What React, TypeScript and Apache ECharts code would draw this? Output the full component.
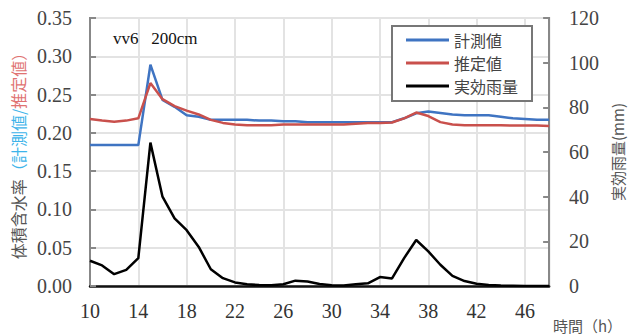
import React, { useEffect, useRef } from "react";
import * as echarts from "echarts";

const hours = [10,11,12,13,14,15,16,17,18,19,20,21,22,23,24,25,26,27,28,29,30,31,32,33,34,35,36,37,38,39,40,41,42,43,44,45,46,47,48];
const measured = [0.184,0.184,0.184,0.184,0.184,0.289,0.243,0.234,0.223,0.221,0.217,0.217,0.217,0.217,0.216,0.216,0.215,0.215,0.214,0.214,0.214,0.214,0.214,0.214,0.214,0.214,0.219,0.2255,0.228,0.226,0.224,0.223,0.223,0.223,0.221,0.219,0.218,0.217,0.217];
const estimated = [0.218,0.216,0.2145,0.216,0.219,0.265,0.244,0.235,0.229,0.224,0.217,0.213,0.211,0.21,0.21,0.21,0.211,0.211,0.211,0.211,0.211,0.211,0.212,0.213,0.213,0.2135,0.219,0.2265,0.222,0.214,0.211,0.21,0.21,0.21,0.21,0.2095,0.2095,0.2095,0.209];
const rainfall = [11.3,9.2,5.3,7.2,12.5,64.2,40,30.3,25,17.5,7.5,3.5,1.6,0.8,0.4,0.3,0.8,2.4,2.0,0.9,0.3,0.2,0.8,1.2,4.0,3.4,12.5,20.6,15.5,9.5,4.5,2.2,1.0,0.5,0.2,0.1,0,0,0];
const seriesNames = ["計測値", "推定値", "実効雨量"];
const titleText = "vv6   200cm";
const xAxisName = "時間（h）";

const SERIF = "'Liberation Serif', 'DejaVu Serif', serif";
const CJK = "'Noto Sans CJK JP', sans-serif";

export default function App() {
  const ref = useRef<HTMLDivElement>(null);
  useEffect(() => {
    if (!ref.current) return;
    document.body.style.margin = "0";
    const chart = echarts.init(ref.current, null, { renderer: "svg" });
    const pair = (arr: number[]) => hours.map((h, i) => [h, arr[i]]);
    chart.setOption({
      animation: false,
      backgroundColor: "#fff",
      title: {
        text: titleText,
        left: 108,
        top: 25,
        textStyle: { fontFamily: SERIF, fontSize: 17, fontWeight: "normal", color: "#111" },
      },
      legend: {
        orient: "vertical",
        left: 392,
        top: 26,
        padding: [5, 14, 6, 14],
        borderColor: "#777",
        borderWidth: 2,
        backgroundColor: "#fff",
        icon: "rect",
        itemWidth: 43,
        itemHeight: 3,
        itemGap: 5,
        data: seriesNames,
        textStyle: { fontFamily: CJK, fontSize: 16, lineHeight: 18, color: "#444" },
      },
      grid: {
        left: 90,
        top: 18,
        width: 467,
        height: 268,
        show: true,
        borderColor: "#888",
        borderWidth: 2,
        containLabel: false,
      },
      xAxis: {
        type: "value",
        min: 10,
        max: 48,
        interval: 4,
        axisLine: { show: true, lineStyle: { color: "#111", width: 2.5 } },
        axisTick: { show: false },
        splitLine: { show: true, lineStyle: { color: "#e3e3e3", width: 2 } },
        axisLabel: {
          margin: 15,
          fontFamily: SERIF,
          fontSize: 20,
          color: "#333",
          showMaxLabel: false,
          formatter: (v: number) => (v === 48 ? "" : String(v)),
        },
      },
      yAxis: [
        {
          type: "value",
          min: 0,
          max: 0.35,
          interval: 0.05,
          position: "left",
          axisLine: { show: true, lineStyle: { color: "#888", width: 2 } },
          axisTick: { show: true, inside: true, length: 6, lineStyle: { color: "#888", width: 2 } },
          splitLine: { show: true, lineStyle: { color: "#e3e3e3", width: 2 } },
          axisLabel: {
            margin: 18,
            fontFamily: SERIF,
            fontSize: 20,
            color: "#444",
            formatter: (v: number) => v.toFixed(2),
          },
          name: "{a|体積含水率}{b|（計測値/}{c|推定値）}",
          nameLocation: "middle",
          nameRotate: 90,
          nameGap: 62,
          nameTextStyle: {
            fontFamily: CJK,
            fontSize: 16,
            rich: {
              a: { fontFamily: CJK, fontSize: 16, color: "#555" },
              b: { fontFamily: CJK, fontSize: 16, color: "#3db4ea" },
              c: { fontFamily: CJK, fontSize: 16, color: "#e07272" },
            },
          },
        },
        {
          type: "value",
          min: 0,
          max: 120,
          interval: 20,
          position: "right",
          axisLine: { show: true, lineStyle: { color: "#888", width: 2 } },
          axisTick: { show: true, inside: true, length: 6, lineStyle: { color: "#888", width: 2 } },
          splitLine: { show: false },
          axisLabel: {
            margin: 20,
            fontFamily: SERIF,
            fontSize: 20,
            color: "#444",
          },
          name: "実効雨量(mm)",
          nameLocation: "middle",
          nameRotate: 90,
          nameGap: 54,
          nameTextStyle: { fontFamily: CJK, fontSize: 15, color: "#555" },
        },
      ],
      graphic: [
        {
          type: "text",
          left: 553,
          top: 318,
          style: { text: xAxisName, fontFamily: CJK, fontSize: 15, fill: "#555" },
        },
      ],
      series: [
        {
          name: seriesNames[0],
          type: "line",
          yAxisIndex: 0,
          data: pair(measured),
          symbol: "none",
          lineStyle: { color: "#3f74c2", width: 2.5 },
          itemStyle: { color: "#3f74c2" },
          z: 3,
        },
        {
          name: seriesNames[1],
          type: "line",
          yAxisIndex: 0,
          data: pair(estimated),
          symbol: "none",
          lineStyle: { color: "#c9504c", width: 2.5 },
          itemStyle: { color: "#c9504c" },
          z: 4,
        },
        {
          name: seriesNames[2],
          type: "line",
          yAxisIndex: 1,
          data: pair(rainfall),
          symbol: "none",
          lineStyle: { color: "#000", width: 2.5 },
          itemStyle: { color: "#000" },
          z: 5,
        },
      ],
    });
    return () => chart.dispose();
  }, []);
  return <div ref={ref} style={{ width: 633, height: 336 }} />;
}
